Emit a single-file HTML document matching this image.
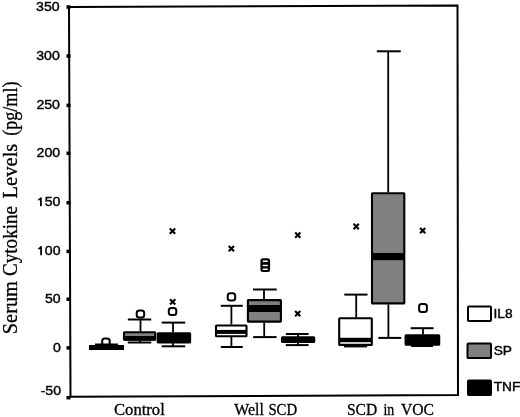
<!DOCTYPE html>
<html><head><meta charset="utf-8"><style>
html,body{margin:0;padding:0;background:#fff;}
svg{display:block;}
text{opacity:0.999;}
svg{will-change:transform;}
.tl{font-family:"Liberation Sans",sans-serif;font-size:12.5px;fill:#000;stroke:#000;stroke-width:0.4px;}
.lg{font-family:"Liberation Sans",sans-serif;font-size:12.5px;fill:#000;stroke:#000;stroke-width:0.4px;}
.xl{font-family:"Liberation Serif",serif;font-size:16.5px;fill:#000;stroke:#000;stroke-width:0.3px;}
.yl{font-family:"Liberation Serif",serif;font-size:20px;fill:#000;stroke:#000;stroke-width:0.3px;}
</style></head><body>
<svg width="520" height="417" viewBox="0 0 520 417">
<path d="M69 7 L457.5 5.5 L458 395 L70.5 396.8 Z" fill="none" stroke="#000" stroke-width="2"/>
<rect x="66.5" y="5.25" width="4" height="3.5" fill="#000"/>
<rect x="66.5" y="54.25" width="4" height="3.5" fill="#000"/>
<rect x="66.5" y="103.65" width="4" height="3.5" fill="#000"/>
<rect x="66.5" y="151.55" width="4" height="3.5" fill="#000"/>
<rect x="66.5" y="200.95" width="4" height="3.5" fill="#000"/>
<rect x="66.5" y="249.65" width="4" height="3.5" fill="#000"/>
<rect x="66.5" y="297.45" width="4" height="3.5" fill="#000"/>
<rect x="66.5" y="346.15" width="4" height="3.5" fill="#000"/>
<rect x="66.5" y="395.95" width="4" height="3.5" fill="#000"/>
<text transform="translate(59.60 10.80) scale(1.13 1)" text-anchor="end" class="tl">350</text>
<text transform="translate(59.78 59.80) scale(1.13 1)" text-anchor="end" class="tl">300</text>
<text transform="translate(59.97 109.20) scale(1.13 1)" text-anchor="end" class="tl">250</text>
<text transform="translate(60.16 157.10) scale(1.13 1)" text-anchor="end" class="tl">200</text>
<text transform="translate(60.35 206.30) scale(1.13 1)" text-anchor="end" class="tl">50</text>
<path d="M40.90 206.30 L40.90 197.40 M41.30 197.60 Q40.10 199.50 38.20 199.90" fill="none" stroke="#000" stroke-width="1.75"/>
<text transform="translate(60.54 255.20) scale(1.13 1)" text-anchor="end" class="tl">00</text>
<path d="M41.09 255.20 L41.09 246.30 M41.49 246.50 Q40.29 248.40 38.39 248.80" fill="none" stroke="#000" stroke-width="1.75"/>
<text transform="translate(60.72 303.00) scale(1.13 1)" text-anchor="end" class="tl">50</text>
<text transform="translate(60.91 351.80) scale(1.13 1)" text-anchor="end" class="tl">0</text>
<text transform="translate(61.07 394.50) scale(1.13 1)" text-anchor="end" class="tl">-50</text>
<rect x="102.2" y="338.5" width="7.5" height="7.2" rx="2.5" fill="none" stroke="#000" stroke-width="2"/>
<line x1="95.0" y1="344.5" x2="118.0" y2="344.5" stroke="#000" stroke-width="2"/>
<rect x="89" y="345" width="35" height="5" fill="#000"/>
<rect x="136.7" y="310.4" width="7.5" height="7.2" rx="2.5" fill="none" stroke="#000" stroke-width="2"/>
<line x1="127.8" y1="319.5" x2="151.3" y2="319.5" stroke="#000" stroke-width="2"/>
<line x1="140.5" y1="319.5" x2="140.5" y2="331.5" stroke="#000" stroke-width="1.8"/>
<rect x="124.0" y="332.2" width="31.2" height="7.5" rx="0.5" fill="#808080" stroke="#000" stroke-width="2.1"/>
<rect x="124" y="336.0" width="31.19999999999999" height="4.6" fill="#000"/>
<line x1="140" y1="340.5" x2="140" y2="342.5" stroke="#000" stroke-width="1.8"/>
<line x1="127.8" y1="342.5" x2="151.3" y2="342.5" stroke="#000" stroke-width="2"/>
<path d="M169.8 228.5 L175.2 233.8 M175.2 228.5 L169.8 233.8" stroke="#000" stroke-width="2.1"/>
<path d="M170.0 299.2 L175.3 304.4 M175.3 299.2 L170.0 304.4" stroke="#000" stroke-width="2.1"/>
<rect x="168.8" y="307.9" width="7.5" height="7.2" rx="2.5" fill="none" stroke="#000" stroke-width="2"/>
<line x1="161.7" y1="322.6" x2="185.2" y2="322.6" stroke="#000" stroke-width="2"/>
<line x1="173" y1="322.6" x2="173" y2="332.5" stroke="#000" stroke-width="1.8"/>
<rect x="157.7" y="333.3" width="32.4" height="9.1" rx="0.5" fill="#000" stroke="#000" stroke-width="2.1"/>
<line x1="173" y1="343" x2="173" y2="346" stroke="#000" stroke-width="1.8"/>
<line x1="161.7" y1="346.3" x2="185.2" y2="346.3" stroke="#000" stroke-width="2"/>
<path d="M228.7 245.9 L234.0 251.2 M234.0 245.9 L228.7 251.2" stroke="#000" stroke-width="2.1"/>
<rect x="227.7" y="293.2" width="7.5" height="7.2" rx="2.5" fill="none" stroke="#000" stroke-width="2"/>
<line x1="220.8" y1="305.8" x2="242.8" y2="305.8" stroke="#000" stroke-width="2"/>
<line x1="231.4" y1="305.8" x2="231.4" y2="324.5" stroke="#000" stroke-width="1.8"/>
<rect x="216.0" y="325.5" width="30.5" height="10.8" rx="0.5" fill="#fff" stroke="#000" stroke-width="2.1"/>
<rect x="216" y="329.9" width="30.5" height="4" fill="#000"/>
<line x1="231.4" y1="337" x2="231.4" y2="347" stroke="#000" stroke-width="1.8"/>
<line x1="220.8" y1="347" x2="242.8" y2="347" stroke="#000" stroke-width="2"/>
<rect x="260.4" y="258.2" width="9.7" height="13.8" rx="2.5" fill="#000"/>
<rect x="262.6" y="260.4" width="5.4" height="1.5" rx="0.7" fill="#fff"/>
<rect x="262.6" y="264.8" width="5.4" height="1.5" rx="0.7" fill="#fff"/>
<rect x="262.6" y="268.4" width="5.4" height="1.5" rx="0.7" fill="#fff"/>
<line x1="253.0" y1="289.5" x2="276.7" y2="289.5" stroke="#000" stroke-width="2"/>
<line x1="264" y1="289.5" x2="264" y2="299.5" stroke="#000" stroke-width="1.8"/>
<rect x="247.9" y="300.1" width="33.0" height="21.5" rx="0.5" fill="#808080" stroke="#000" stroke-width="2.1"/>
<rect x="247.9" y="305.0" width="32.99999999999997" height="7" fill="#000"/>
<line x1="264.2" y1="322.6" x2="264.2" y2="337.1" stroke="#000" stroke-width="1.8"/>
<line x1="253.1" y1="337.1" x2="276.6" y2="337.1" stroke="#000" stroke-width="2"/>
<path d="M295.2 232.5 L300.4 237.8 M300.4 232.5 L295.2 237.8" stroke="#000" stroke-width="2.1"/>
<path d="M295.1 311.1 L300.3 316.3 M300.3 311.1 L295.1 316.3" stroke="#000" stroke-width="2.1"/>
<line x1="285.8" y1="334" x2="308.6" y2="334" stroke="#000" stroke-width="2"/>
<line x1="298" y1="334" x2="298" y2="345" stroke="#000" stroke-width="1.8"/>
<rect x="282.0" y="337.3" width="32.2" height="4.7" rx="0.5" fill="#000" stroke="#000" stroke-width="2.1"/>
<line x1="285.8" y1="345.1" x2="308.6" y2="345.1" stroke="#000" stroke-width="2"/>
<path d="M353.6 223.8 L358.8 229.2 M358.8 223.8 L353.6 229.2" stroke="#000" stroke-width="2.1"/>
<line x1="344.3" y1="294.6" x2="367.5" y2="294.6" stroke="#000" stroke-width="2"/>
<line x1="356.2" y1="294.6" x2="356.2" y2="317.5" stroke="#000" stroke-width="1.8"/>
<rect x="339.2" y="318.2" width="32.6" height="26.7" rx="0.5" fill="#fff" stroke="#000" stroke-width="2.1"/>
<rect x="339.2" y="337.8" width="32.60000000000002" height="4.4" fill="#000"/>
<line x1="344.0" y1="346.4" x2="367.2" y2="346.4" stroke="#000" stroke-width="2"/>
<line x1="376.8" y1="51.3" x2="400.8" y2="51.3" stroke="#000" stroke-width="2"/>
<line x1="388.2" y1="51.3" x2="388.2" y2="192.5" stroke="#000" stroke-width="1.8"/>
<rect x="372.0" y="193.2" width="32.3" height="110.2" rx="0.5" fill="#808080" stroke="#000" stroke-width="2.1"/>
<rect x="372" y="253.0" width="32.30000000000001" height="7.2" fill="#000"/>
<line x1="388.4" y1="304.4" x2="388.4" y2="337.9" stroke="#000" stroke-width="1.8"/>
<line x1="378.3" y1="337.9" x2="401.3" y2="337.9" stroke="#000" stroke-width="2"/>
<path d="M420.1 227.9 L425.3 233.2 M425.3 227.9 L420.1 233.2" stroke="#000" stroke-width="2.1"/>
<rect x="419.1" y="304.1" width="7.8" height="7.8" rx="2.5" fill="none" stroke="#000" stroke-width="2"/>
<line x1="410.6" y1="328.2" x2="433.6" y2="328.2" stroke="#000" stroke-width="2"/>
<line x1="423" y1="328.2" x2="423" y2="334.5" stroke="#000" stroke-width="1.8"/>
<rect x="405.6" y="335.2" width="33.6" height="9.6" rx="0.5" fill="#000" stroke="#000" stroke-width="2.1"/>
<line x1="411.1" y1="346" x2="433.1" y2="346" stroke="#000" stroke-width="2"/>
<rect x="468" y="306.4" width="23" height="14.6" rx="0.9" fill="#fff" stroke="#000" stroke-width="2"/>
<rect x="467.5" y="343.5" width="23.5" height="14.6" rx="0.9" fill="#808080" stroke="#000" stroke-width="2"/>
<rect x="468" y="380.5" width="23" height="14.6" rx="0.9" fill="#000" stroke="#000" stroke-width="2"/>
<text transform="translate(493.5 318.4) scale(1.1 1)" class="lg">IL8</text>
<text transform="translate(493.7 355.4) scale(1.1 1)" class="lg">SP</text>
<text transform="translate(493.7 391.2) scale(1.1 1)" class="lg">TNF</text>
<text transform="translate(113.99 415) scale(1.008 1)" class="xl">Control</text>
<text transform="translate(234.30 415) scale(0.960 1)" class="xl">Well</text>
<text transform="translate(268.40 415) scale(0.897 1)" class="xl">SCD</text>
<text transform="translate(346.95 415) scale(0.945 1)" class="xl">SCD</text>
<text transform="translate(383.50 415) scale(0.842 1)" class="xl">in</text>
<text transform="translate(401.00 415) scale(0.950 1)" class="xl">VOC</text>
<text transform="translate(16.9 334.22) rotate(-90) scale(1.018 1)" class="yl">Serum</text>
<text transform="translate(16.9 275.95) rotate(-90) scale(0.954 1)" class="yl">Cytokine</text>
<text transform="translate(16.9 198.60) rotate(-90) scale(1.032 1)" class="yl">Levels</text>
<text transform="translate(16.9 135.81) rotate(-90) scale(0.905 1)" class="yl">(pg/ml)</text>
</svg>
</body></html>
